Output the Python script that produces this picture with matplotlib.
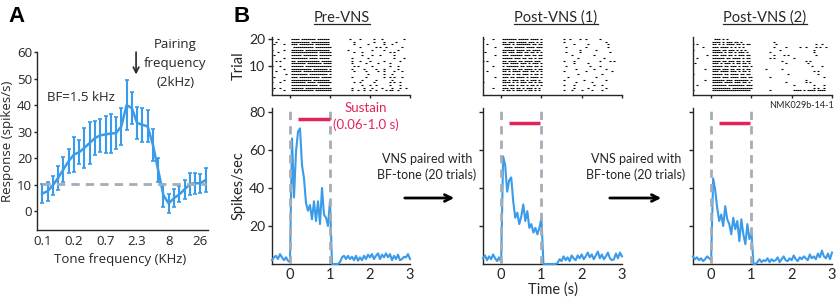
import numpy as np
import matplotlib.pyplot as plt
from matplotlib.lines import Line2D
from matplotlib.patches import FancyArrowPatch

plt.rcParams['font.family'] = ['Lato', 'DejaVu Sans']

W, H = 837, 298

# ---- panel A: tuning curve ----
freq_labels = ['0.1', '0.2', '0.7', '2.3', '8', '26']
freq_label_idx = [0, 6, 12, 18, 24, 30]
response = [6.7, 7.6, 9.8, 12.6, 15.8, 18.9, 21.4, 22.3, 23.9, 25.8, 27.6, 28.6,
            29.0, 29.3, 29.5, 32.0, 40.0, 38.9, 33.3, 32.6, 32.0, 25.0, 15.5, 6.0,
            3.0, 5.0, 6.4, 8.3, 10.3, 10.6, 10.6, 11.8]
response_err = [3.7, 3.5, 3.7, 4.4, 4.7, 4.6, 6.5, 4.4, 7.5, 7.8, 6.5, 6.3,
                6.9, 7.2, 5.9, 6.9, 9.4, 6.0, 6.0, 6.5, 6.0, 6.0, 4.5, 4.5,
                3.5, 3.5, 3.0, 3.5, 4.0, 4.0, 3.5, 4.5]
spont_rate = 10.5
pairing_idx = 17.8

# ---- panel B: PSTHs (0.05 s bins from -0.45 s) ----
t_start, bin_w = -0.45, 0.05
psth_pre = [2, 3.5, 4.3, 2.6, 5.2, 3.5, 2, 3.5, 1.7, 1,
            66, 35, 59, 69.5, 71.3, 52, 45, 32, 28, 31, 23.5, 33, 22.6, 33, 21, 40, 26, 24.3, 20, 33,
            0, 0, 0, 0, 1, 3.5, 4.3, 2.6, 4.3, 2.6, 3.8, 2, 4.3, 1.7, 3.5, 2, 4.3, 2.6, 4.9, 3.5,
            5.2, 2.6, 4.3, 5.6, 2.6, 4.9, 3.5, 5.6, 3.5, 5.2, 2, 4.3, 2.6, 4.9, 2, 2.6, 3.8, 3.5, 5.2, 2.6]
psth_post1 = [3, 4.5, 2, 4, 2.5, 5, 3, 1.5, 3.5, 1,
              56.5, 52, 38, 44, 45.5, 33, 24.3, 27, 21, 25, 31.3, 22.6, 27.8, 19, 21, 16.5, 19, 15.6, 19, 24.3,
              0, 0, 0, 0, 0, 0, 0, 0.5, 2.5, 1.5, 4, 2, 3.5, 1.5, 4.5, 3, 2, 4.5, 3, 5,
              2.5, 4, 6, 3.5, 5, 2.5, 4.5, 6.5, 3, 5, 2.5, 4, 6, 3, 2, 2.5, 5.5, 3, 6, 4]
psth_post2 = [4, 2.5, 3.5, 2, 3, 1.5, 2.5, 4, 3, 2,
              45, 39, 29.6, 22.6, 26, 20, 30.4, 23.5, 21, 15.6, 24.3, 18.3, 22.6, 12, 23.5, 15.6, 10.4, 21, 13, 17.4,
              0, 0, 1, 2.5, 1, 2, 1.5, 3, 1, 2.5, 1.5, 2, 3.5, 1, 2.5, 4, 2, 1.5, 3, 2,
              4.5, 2.5, 1.5, 3.5, 2.5, 4, 3, 2, 5, 3, 4, 2.5, 5.5, 3.5, 7, 4, 3, 5.5, 2.5, 6]
sustain_pre = (0.2, 1.0, 76)
sustain_post = (0.2, 0.97, 74)

# rasters: trial 20 first; segments = pre (9 bins) / tone (21 bins) / post (40 bins), '#' = spike
raster_pre = [
    "#..#..... .####.#######.######.# .........#....#......#...#..........#...",
    "..#...... .#########.#########.. ...........#.........#....#.....#.....",
    ".#....#.. .###.#######.#######.# ...........#......#.......#...#.......",
    "......... ..##########.########. ..............#.......#.#..#.......#..",
    "#.....#.. .######.############.# ........#...........#.....#......#....",
    "...#..... .#############.######. ...........#...#.............#.#.....",
    ".#....... .#####.#######.####### ...............#....#...#......#......",
    "......#.. .########.####.#####.. ..........#.......#............#....#.",
    "..#.#.... .##.###########.###### ..........#...#....#......#.......#...",
    "......... .#######.#######.#####. ..........#......#.....#.....#.......",
    "#...#.... .######.############## ...........#.#......#........#...#...",
    "......#.. .##########.#######.## ..........#.....#.....#...#......#....",
    "..#...... .#####.##############. ...........#.....#.....#..#....#...#.",
    ".......#. .########.#########.## ..................#.......#...#......",
    ".#....... .###.##########.###### ..........#......#........#..#.#...#.",
    "......#.. .##########.########.# ...............#......#.......#......",
    "#...#.... .#######.####.#######. ...........#..#......#.......#.#..#...",
    "......... .#############.#####.# ...............#...#..#......#....#..",
    ".#..#.... .######.#############. ..........#.....#...#....#....#...#..#",
    "#.....#.. .###########.########. ..........#..#..#..#..#....#.##..#...",
]
raster_post1 = [
    "#....#... .#######.#####.####.## ..........#..#....#..#......#..........",
    "......... .##.###.#####.###.#.#. ..........#....................#......",
    "..#...... .####.#.#######.##.##. ...............#......#.........#....",
    "......#.. ..####.#####.####.#### ...........#.........#..........#....",
    "......... .######.####.##.####.. ..................#.......#...........",
    ".#....... .##.###.###.##.##.#.#. ...........#......#..............#...",
    "......#.. .###.######.###.##.### ..............#..........#............",
    "......... .#####.###.##.##.#.##. .................#............#......",
    "#.#...... .##.####.##.####.###.# ..........#....#............#....#.#.",
    "......... .###.####.###.#.###.#. ...............#......#...............",
    ".....#... .#.######.##.###.##.#. ...........#...........#....#........",
    "......... .####.##.##.####.#.##. ................#........#.....#.....",
    "..#...... .##.#.####.###.##.#.## ..........#..........#............#..",
    "......... .####.#.##.###.#.##.#. .................#...........#.......",
    "......#.. .###.##.####.#.####.#. ............#.............#..........",
    "......... .##.#.###.##.#.###.#.. ..........#.........#..........#.....",
    "#........ .####.#.#.###.##.#.##. ................#.......#............",
    "......... .##.###.#.##.#.##.#.#. ..........#....#.........#...#.......",
    ".....#... .###.##.##.#.###.#.#.. ...............#......#........#.....",
    "......... .#.##.#.###.#.##.#.#.# ..........#...#....#....#....#.......",
]
raster_post2 = [
    "......... ..###.#.#............. .......................................",
    "......... .####.#.###.##.#..... ..........#..........................",
    "#.#...... .##.#.#.####.##.#.##. ...........#...................#..#..",
    ".....#... .###.####.#.#.#.#.... ..........#.....#......#..#....#.#..#",
    "#........ .####.##.###.#.#.#... .............#................#......",
    "......... .#####.#.##.#.###.#.. ........#.....................#......",
    ".......#. .###.###.##.#.###.##. ..........#....#.#.............#.....",
    "..#...... .######.##.####.#.##. ........#.#.........#................",
    "......... .####.##.###.##.#.##.# ..............#...........#.#........",
    ".#....... .###.#.###.#.##.##.#. ................#..........#.........",
    "......... .#####.##.###.#.###.#. .............................#....#..",
    "......#.. .####.###.##.##.#.##.. ......#.......#......................",
    "......... .###.####.###.#.##.#.# ..............................#.#....",
    "#........ .#####.##.####.##.##.. .................#..............#....",
    "......... .####.###.####.###.##. ........#..........................#.",
    "......#.. .######.###.#######.#. ..........................#.........",
    "......... .#####.####.###.##.#.## ................#.........#.#.......",
    "..#...... .#######.########.###. ....................#.........#....#.",
    "......... .#########.###########. ..............................#.#..#",
    "#........ .###################.. ........#...........####.#.####.####.",
]

blue = '#3a9bea'
grey = '#a7adb5'
red = '#e3245a'
ink = '#262626'
fontA = ['Open Sans', 'DejaVu Sans']

fig = plt.figure(figsize=(W / 100, H / 100), dpi=100)


def box(l, t, r, b):
    return [l / W, 1 - b / H, (r - l) / W, (b - t) / H]


def style(ax):
    for s in ['top', 'right']:
        ax.spines[s].set_visible(False)
    for s in ['left', 'bottom']:
        ax.spines[s].set_color(ink)
        ax.spines[s].set_linewidth(1.0)
    ax.tick_params(colors=ink, labelcolor=ink, width=1, length=3)


# ---- A ----
axA = fig.add_axes(box(37, 52, 208, 230))
style(axA)
idx = np.arange(len(response))
axA.hlines(spont_rate, idx[0], idx[-1], colors=grey, lw=2, linestyles=(0, (3, 2.2)), zorder=4)
axA.errorbar(idx, response, yerr=response_err, color=blue, lw=1.8, elinewidth=1.5,
             capsize=1.5, capthick=1.2, zorder=3)
axA.set_xlim(-1, 31.45)
axA.set_ylim(-7, 60)
axA.set_yticks(range(0, 61, 10))
axA.set_xticks(freq_label_idx, freq_labels)
axA.tick_params(axis='x', length=0, pad=3.5)
axA.tick_params(axis='y', length=2, pad=1.5)
for lab in axA.get_xticklabels() + axA.get_yticklabels():
    lab.set_family(fontA)
    lab.set_fontsize(9.5)
axA.set_ylabel('Response (spikes/s)', fontsize=9.5, color=ink, family=fontA)
axA.yaxis.set_label_coords(-0.135, 0.5)
axA.set_xlabel('Tone frequency (KHz)', fontsize=9.5, color=ink, family=fontA)
axA.xaxis.set_label_coords(0.485, -0.13)
axA.text(0.9, 43, 'BF=1.5 kHz', fontsize=9.5, color=ink, va='center', family=fontA)
axA.annotate('', xy=(pairing_idx, 50.5), xytext=(pairing_idx, 61),
             arrowprops=dict(arrowstyle='->', color=ink, lw=1.2), annotation_clip=False)
axA.text(25.2, 55.5, 'Pairing\nfrequency\n(2kHz)', fontsize=9.5, color=ink,
         ha='center', va='center', linespacing=1.6, family=fontA)

fig.text(8 / W, 1 - 16 / H, 'A', fontsize=16, fontweight='bold', family='Liberation Sans', va='center')
fig.text(234 / W, 1 - 16 / H, 'B', fontsize=16, fontweight='bold', family='Liberation Sans', va='center')

# ---- B ----
raster_boxes = [(272, 37, 410, 95), (483, 37, 622, 95), (693, 37, 832, 95)]
psth_boxes = [(272, 108, 410, 264), (483, 108, 622, 264), (693, 108, 832, 264)]
title_x = [342, 556, 765]
titles = ['Pre-VNS', 'Post-VNS (1)', 'Post-VNS (2)']
rasters = [raster_pre, raster_post1, raster_post2]
psths = [psth_pre, psth_post1, psth_post2]
sustains = [sustain_pre, sustain_post, sustain_post]
seg_len = [9, 21, 40]

title_texts = []
for k in range(3):
    # raster
    axr = fig.add_axes(box(*raster_boxes[k]))
    style(axr)
    n = len(rasters[k])
    xs, ys = [], []
    for r, row in enumerate(rasters[k]):
        parts = row.split(' ')
        full = ''.join(p.ljust(L, '.')[:L] for p, L in zip(parts, seg_len))
        for j, ch in enumerate(full):
            if ch == '#':
                xs.append(t_start + j * bin_w)
                ys.append(n - r)
    axr.plot(xs, ys, ls='none', marker='_', ms=1.8, mew=0.8, color='black')
    axr.set_xlim(-0.45, 3.0)
    axr.set_ylim(-0.7, 20.7)
    axr.set_xticks([0, 1, 2, 3], [])
    axr.tick_params(axis='x', length=2)
    if k == 0:
        axr.set_yticks([10, 20])
        axr.tick_params(axis='y', labelsize=10, length=3, pad=2)
        axr.set_ylabel('Trial', fontsize=10.5, color=ink)
        axr.yaxis.set_label_coords(-0.19, 0.5)
    else:
        axr.set_yticks([])

    # psth
    axp = fig.add_axes(box(*psth_boxes[k]))
    style(axp)
    t = t_start + bin_w * np.arange(len(psths[k]))
    axp.plot(t, psths[k], color=blue, lw=1.5, zorder=3, clip_on=False)
    for x0 in [0, 1]:
        axp.axvline(x0, color=grey, lw=2, ls=(0, (3, 2.2)), zorder=4)
    s0, s1, sy = sustains[k]
    axp.plot([s0, s1], [sy, sy], color=red, lw=2.5, solid_capstyle='butt', zorder=5)
    axp.set_xlim(-0.45, 3.0)
    axp.set_ylim(0, 82)
    axp.set_xticks([0, 1, 2, 3])
    axp.set_yticks([20, 40, 60, 80])
    axp.tick_params(axis='x', length=0, labelsize=10.5, pad=3)
    axp.tick_params(axis='y', labelsize=10, pad=2)
    if k == 0:
        axp.set_ylabel('Spikes/sec', fontsize=10.5, color=ink)
        axp.yaxis.set_label_coords(-0.19, 0.5)
        axp.text(1.9, 77.5, 'Sustain\n(0.06-1.0 s)', color=red, fontsize=9.5,
                 ha='center', va='center', linespacing=1.35)
    else:
        axp.set_yticklabels([])
    if k == 1:
        axp.set_xlabel('Time (s)', fontsize=10.5, color=ink, labelpad=0)

    tx = fig.text(title_x[k] / W, 1 - 18 / H, titles[k], fontsize=10.5, color=ink,
                  ha='center', va='center')
    title_texts.append(tx)

fig.text(834 / W, 1 - 105 / H, 'NMK029b-14-1', fontsize=6.5, color=ink, ha='right', va='center')

for cx, x0, x1 in [(427, 402, 457), (636, 607, 664)]:
    fig.text(cx / W, 1 - 167 / H, 'VNS paired with\nBF-tone (20 trials)', fontsize=9,
             color=ink, ha='center', va='center', linespacing=1.3)
    fig.add_artist(FancyArrowPatch((x0 / W, 1 - 198 / H), (x1 / W, 1 - 198 / H),
                                   transform=fig.transFigure, arrowstyle='->',
                                   mutation_scale=12, lw=2, color='black'))

# underline the titles
fig.canvas.draw()
rend = fig.canvas.get_renderer()
inv = fig.transFigure.inverted()
for tx in title_texts:
    bb = tx.get_window_extent(rend)
    (x0, y0), (x1, y1) = inv.transform([(bb.x0, bb.y0), (bb.x1, bb.y1)])
    fig.add_artist(Line2D([x0, x1], [y0 + 0.003, y0 + 0.003], transform=fig.transFigure,
                          color=ink, lw=0.9))

fig.savefig('out.png', dpi=100)
